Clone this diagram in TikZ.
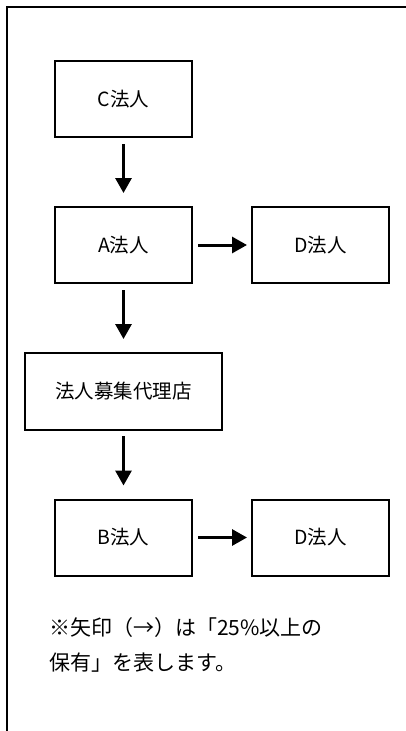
\documentclass[tikz,border=0pt]{standalone}
\usepackage{fontspec}
\setmainfont{Noto Sans CJK JP}
\usetikzlibrary{arrows.meta}
\begin{document}
\begin{tikzpicture}[x=1pt,y=-1pt,
  box/.style={draw,line width=2pt,minimum width=137pt,minimum height=76pt,inner sep=0pt,font=\fontsize{19.5}{22}\selectfont},
  arr/.style={line width=3pt,-{Triangle[width=16pt,length=15pt]}},
  notetext/.style={anchor=base west,inner sep=0pt,font=\fontsize{21}{24}\selectfont}]
\useasboundingbox (0,0) rectangle (406,731);
\draw[line width=2pt] (7,731) -- (7,7) -- (406,7);
\node[box] (C) at (123.5,99) {C法人};
\node[box] (A) at (123.5,245) {A法人};
\node[box] (D1) at (320.5,245) {D法人};
\node[box,minimum width=197pt,minimum height=77pt] (G) at (123.5,391.5) {法人募集代理店};
\node[box] (B) at (123.5,537.5) {B法人};
\node[box] (D2) at (320.5,537.5) {D法人};
\draw[arr,shorten <=6pt,shorten >=13pt] (C) -- (A);
\draw[arr,shorten <=5pt,shorten >=4pt] (A) -- (D1);
\draw[arr,shorten <=6pt,shorten >=13pt] (A) -- (G);
\draw[arr,shorten <=5pt,shorten >=13pt] (G) -- (B);
\draw[arr,shorten <=5pt,shorten >=4pt] (B) -- (D2);
\node[notetext] (n1) at (49,635) {※矢印（→）は「25\%以上の};
\node[notetext] (n2) at (49,670) {保有」を表します。};
\end{tikzpicture}
\end{document}
